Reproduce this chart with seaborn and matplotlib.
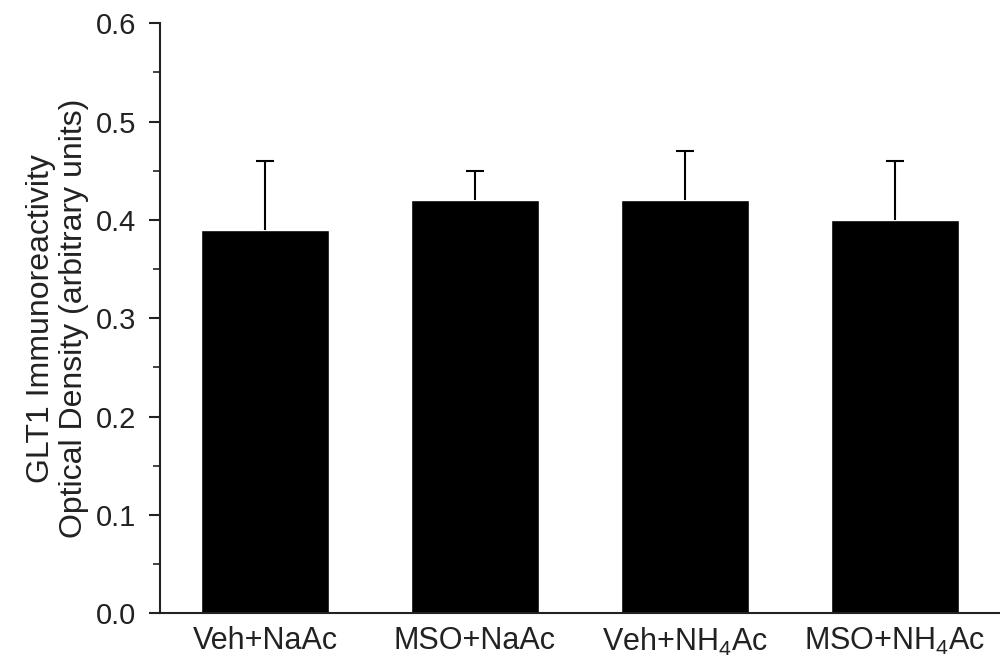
import numpy as np
import pandas as pd
import seaborn as sns
import matplotlib.pyplot as plt
from matplotlib.ticker import MultipleLocator

# Data
groups = ["Veh+NaAc", "MSO+NaAc", r"Veh+$\mathregular{NH_4}$Ac", r"MSO+$\mathregular{NH_4}$Ac"]
means = [0.39, 0.42, 0.42, 0.40]
errors = [0.07, 0.03, 0.05, 0.06]

df = pd.DataFrame({"group": groups, "od": means})

sns.set_style("ticks")
plt.rcParams["font.family"] = ["Liberation Sans", "DejaVu Sans"]

fig, ax = plt.subplots(figsize=(10, 6.65), dpi=100)
fig.subplots_adjust(left=0.16, right=1.0, top=0.965, bottom=0.078)

sns.barplot(data=df, x="group", y="od", color="black", width=0.61,
            saturation=1, errorbar=None, ax=ax)

# upper-only error bars, placed at the bar centres
centres = [p.get_x() + p.get_width() / 2 for p in ax.patches]
eb = ax.errorbar(centres, means, yerr=[np.zeros(len(errors)), errors],
                 fmt="none", ecolor="black", elinewidth=1.5, capsize=6.5, capthick=1.5)
# drop the lower caps (zero-length side)
eb[1][0].remove()

ax.set_xlim(-0.5, 3.5)
ax.set_ylim(0, 0.6)
ax.yaxis.set_major_locator(MultipleLocator(0.1))
ax.yaxis.set_minor_locator(MultipleLocator(0.05))
ax.set_yticklabels([f"{v:.1f}" for v in ax.get_yticks()])
ax.tick_params(axis="y", which="major", length=8, width=1.5, labelsize=21, pad=9,
               direction="out", colors="#222222")
ax.tick_params(axis="y", which="minor", length=5, width=1.2, colors="#222222")
ax.tick_params(axis="x", length=0, labelsize=22, pad=9, colors="#222222")

ax.set_xlabel("")
ax.set_ylabel("GLT1 Immunoreactivity\nOptical Density (arbitrary units)",
              fontsize=23, labelpad=5, color="#222222", linespacing=1.15)

sns.despine(ax=ax)
for s in ["left", "bottom"]:
    ax.spines[s].set_linewidth(1.5)
    ax.spines[s].set_color("#222222")

fig.savefig("out.png", dpi=100)
